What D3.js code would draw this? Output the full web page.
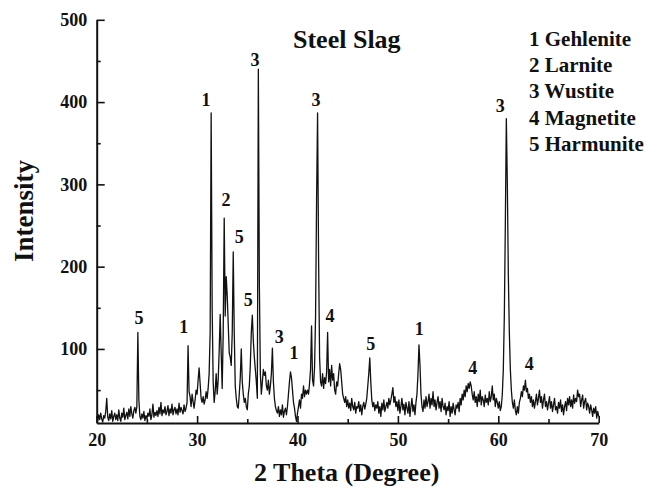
<!DOCTYPE html>
<html><head><meta charset="utf-8">
<script src="https://cdn.jsdelivr.net/npm/d3@7"></script>
<style>
body{margin:0;background:#fff}
text{font-family:"Liberation Serif","Times New Roman",serif;font-weight:bold;fill:#111}
</style>
</head><body>
<svg id="c" width="654" height="492"></svg>
<script>
// ---- data ----
const startAngle = 20;
const stepAngle = 0.1;
const intensity = [
 18,12,20,14,22,15,11,19,16,24,
 40,17,13,21,15,25,12,18,22,14,
 20,13,26,16,12,22,17,28,14,19,
 23,15,27,18,30,21,16,25,29,22,
 30,120,38,18,14,21,16,24,13,19,
 15,22,18,27,14,20,33,17,23,19,
 25,18,29,21,35,19,26,22,30,20,
 24,31,19,27,22,33,20,26,29,21,
 27,20,34,23,29,25,21,32,24,28,
 35,104,48,42,30,45,36,28,38,50,
 45,62,77,58,40,35,42,33,38,48,
 40,52,70,120,387,150,60,35,48,70,
 45,62,98,142,95,52,120,259,140,188,
 165,130,95,90,80,120,218,120,55,40,
 30,28,45,65,100,60,45,35,40,30,
 26,45,55,80,120,141,110,90,75,60,
 40,440,180,70,45,60,75,68,72,55,
 50,62,45,55,70,101,60,40,30,25,
 22,30,18,26,20,32,17,24,28,20,
 30,45,60,72,65,50,35,28,18,12,
 22,30,38,28,45,40,55,42,50,45,
 50,45,58,75,128,62,55,78,140,280,
 387,210,90,60,55,70,52,65,58,72,
 120,60,75,55,80,62,70,50,45,60,
 55,70,82,75,60,45,40,35,42,30,
 38,28,34,25,40,30,26,35,22,30,
 28,36,24,32,20,30,35,27,33,40,
 55,70,89,60,38,30,35,25,32,28,
 36,22,30,18,34,26,38,24,30,35,
 28,40,32,38,45,53,35,42,30,36,
 25,38,22,30,40,26,33,20,35,28,
 22,36,18,30,40,24,32,20,35,45,
 70,105,80,45,30,24,38,28,42,30,
 36,45,28,40,32,48,30,38,26,35,
 42,28,36,24,40,30,26,34,20,30,
 25,36,18,30,22,34,26,20,32,28,
 35,24,40,32,45,38,50,42,55,48,
 58,52,60,55,45,38,48,35,42,30,
 45,36,50,32,42,38,30,44,35,40,
 32,48,36,42,55,38,45,30,40,35,
 28,36,25,30,45,75,140,250,380,300,
 190,120,75,50,35,28,38,25,20,30,
 22,35,40,48,42,55,50,62,48,52,
 40,45,35,42,30,38,28,36,45,32,
 40,50,35,42,28,38,45,30,36,26,
 34,42,28,36,24,32,40,26,30,22,
 35,28,38,24,32,20,30,36,25,40,
 32,42,30,38,28,44,34,40,36,50,
 42,45,30,38,44,28,36,40,26,34,
 30,22,32,26,18,28,22,30,16,24,
 18
];
const xTicks = [20,30,40,50,60,70];
const xMinorTicks = [25,35,45,55,65];
const yTicks = [100,200,300,400,500];
const yMinorTicks = [50,150,250,350,450];
const peakLabels  = ["5","1","1","2","5","5","3","3","1","3","4","5","1","4","3","4"];
const peakAngles  = [24.22,28.67,30.89,32.88,34.2,35.1,35.77,38.19,39.65,41.84,43.24,47.29,52.13,57.45,60.2,63.09];
const peakHeights = [137.6,126.6,402.5,281,236,159.5,451,114.9,95,402.5,140,106,125,77.2,396,81.7];
const phases = ["1 Gehlenite","2 Larnite","3 Wustite","4 Magnetite","5 Harmunite"];
const titleText = "Steel Slag";
const xTitle = "2 Theta (Degree)";
const yTitle = "Intensity";

// ---- chart ----
const svg = d3.select("#c");
const x = d3.scaleLinear().domain([20,70]).range([96.7,598.7]);
const y = d3.scaleLinear().domain([10,500]).range([423,19.8]);

const pts = intensity.map((v,i)=>[startAngle + i*stepAngle, v]);
svg.append("path")
  .datum(pts)
  .attr("fill","none")
  .attr("stroke","#111")
  .attr("stroke-width",1.3)
  .attr("stroke-linejoin","round")
  .attr("d", d3.line().x(d=>x(d[0])).y(d=>y(d[1])));

// axes
const gx = svg.append("g").attr("transform","translate(0,423)");
gx.call(d3.axisBottom(x).tickValues(xTicks).tickSizeInner(-7).tickSizeOuter(0).tickPadding(10.5));
gx.append("g").call(d3.axisBottom(x).tickValues(xMinorTicks).tickSizeInner(-4).tickSizeOuter(0).tickFormat(""))
  .select(".domain").remove();
const gy = svg.append("g").attr("transform","translate(96.7,0)");
gy.call(d3.axisLeft(y).tickValues(yTicks).tickSizeInner(-8).tickSizeOuter(0).tickPadding(9.5));
gy.append("g").call(d3.axisLeft(y).tickValues(yMinorTicks).tickSizeInner(-4).tickSizeOuter(0).tickFormat(""))
  .select(".domain").remove();
svg.selectAll(".domain").attr("stroke","#111").attr("stroke-width",2);
svg.selectAll(".tick line").attr("stroke","#111").attr("stroke-width",1.6);
svg.selectAll(".tick text").attr("font-size",18).attr("font-family",null).attr("fill","#111");

// peak labels
svg.append("g").selectAll("text").data(peakLabels).join("text")
  .attr("x",(d,i)=>x(peakAngles[i]))
  .attr("y",(d,i)=>y(peakHeights[i]))
  .attr("dy","0.35em")
  .attr("text-anchor","middle")
  .attr("font-size",18)
  .text(d=>d);

// title
svg.append("text").attr("x",293).attr("y",48.3).attr("font-size",26).text(titleText);

// legend
svg.append("g").selectAll("text").data(phases).join("text")
  .attr("x",529).attr("y",(d,i)=>45.7+i*26.3)
  .attr("font-size",21).text(d=>d);

// axis titles
svg.append("text").attr("x",346.7).attr("y",481).attr("text-anchor","middle").attr("font-size",26).text(xTitle);
svg.append("text").attr("transform","translate(33,211) rotate(-90)").attr("text-anchor","middle").attr("font-size",27).text(yTitle);
</script>
</body></html>
